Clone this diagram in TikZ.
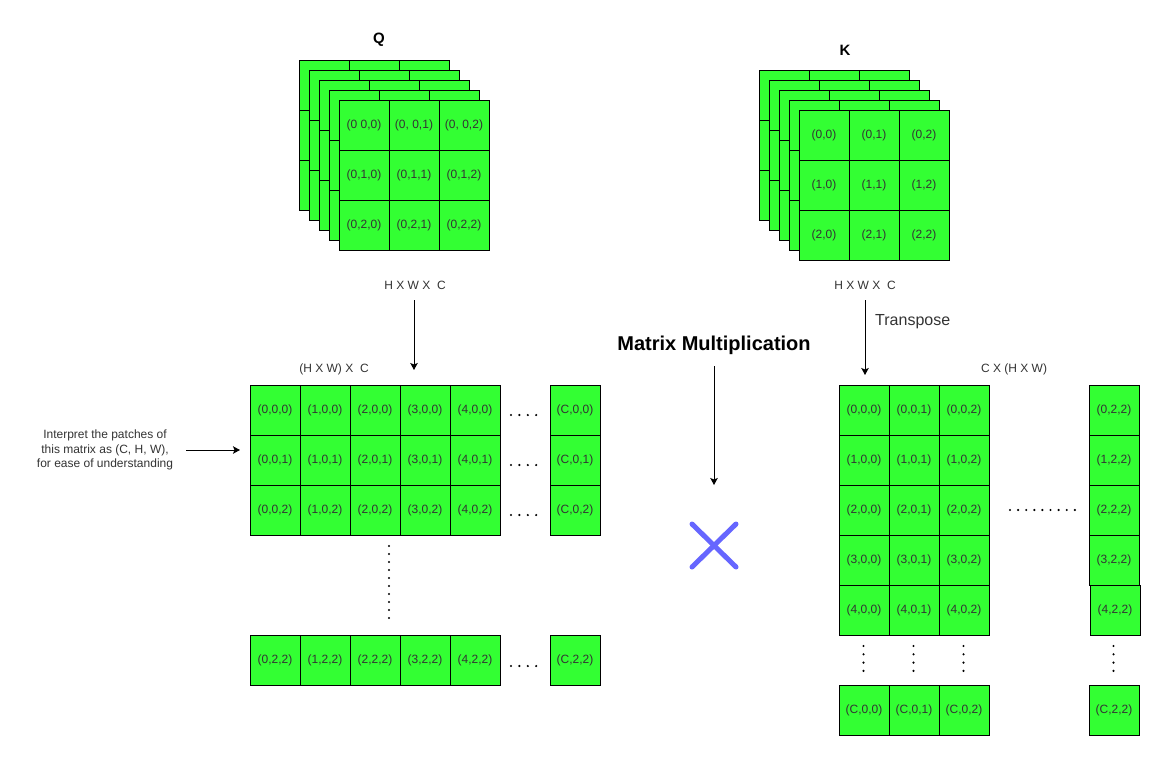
\documentclass[tikz,border=0pt]{standalone}
\usepackage{fontspec}
\setmainfont{Liberation Sans}
\usetikzlibrary{arrows.meta}
\definecolor{cellgreen}{HTML}{33FF33}
\definecolor{txt}{HTML}{333333}
\definecolor{xblue}{HTML}{6666FF}
\tikzset{
  cell/.style={draw=black, fill=cellgreen, line width=1pt, minimum width=50pt, minimum height=50pt,
    inner sep=0pt, outer sep=0pt, anchor=north west, text=txt, font=\fontsize{12}{14}\selectfont},
  lbl/.style={inner sep=0pt, text=txt, font=\fontsize{12}{14}\selectfont},
  title/.style={inner sep=0pt, text=black, font=\bfseries\fontsize{15}{18}\selectfont},
  arr/.style={line width=1pt, -{Stealth[length=7pt, width=7.5pt, inset=1.5pt]}},
  dotmark/.style={fill=black}
}
\begin{document}
\begin{tikzpicture}[x=1pt,y=-1pt]
\useasboundingbox (0,0) rectangle (1166,761);
% ---------- Q stack ----------
\node[title] (qtitle) at (379,40) {Q};
\foreach \k in {0,...,3}{
  \foreach \i in {0,1,2}{
    \foreach \j in {0,1,2}{
      \node[cell] (q\k-\i-\j) at ({299+10*\k+50*\j},{60+10*\k+50*\i}) {};
    }}}
\node[cell] (qa) at (339,100) {(0 0,0)};
\node[cell] (qb) at (389,100) {(0, 0,1)};
\node[cell] (qc) at (439,100) {(0, 0,2)};
\node[cell] (qd) at (339,150) {(0,1,0)};
\node[cell] (qe) at (389,150) {(0,1,1)};
\node[cell] (qf) at (439,150) {(0,1,2)};
\node[cell] (qg) at (339,200) {(0,2,0)};
\node[cell] (qh) at (389,200) {(0,2,1)};
\node[cell] (qi) at (439,200) {(0,2,2)};
% ---------- K stack ----------
\node[title] (ktitle) at (845,50) {K};
\foreach \k in {0,...,3}{
  \foreach \i in {0,1,2}{
    \foreach \j in {0,1,2}{
      \node[cell] (k\k-\i-\j) at ({759+10*\k+50*\j},{70+10*\k+50*\i}) {};
    }}}
\foreach \i in {0,1,2}{
  \foreach \j in {0,1,2}{
    \node[cell] (kf\i-\j) at ({799+50*\j},{110+50*\i}) {(\i,\j)};
  }}
% ---------- labels ----------
\node[lbl] (hwcL) at (415,285) {H X W X~ C};
\node[lbl] (hwcR) at (865,285) {H X W X~ C};
\node[lbl] (hwL) at (334,369) {(H X W) X~ C};
\node[lbl] (hwR) at (1014,369) {C X (H X W)};
\node[inner sep=0pt, text=txt, font=\fontsize{16}{18}\selectfont, anchor=west] (transp) at (875,322) {Transpose};
\node[inner sep=0pt, text=black, font=\bfseries\fontsize{20}{24}\selectfont] (mm) at (714,345) {Matrix Multiplication};
\node[lbl, align=center, font=\fontsize{12}{14.5}\selectfont] (interp) at (105,450)
  {Interpret the patches of\\this matrix as (C, H, W),\\for ease of understanding};
% ---------- left matrix ----------
\foreach \r in {0,1,2}{
  \foreach \c in {0,...,4}{
    \node[cell] (m\c-\r) at ({250+50*\c},{385+50*\r}) {(\c,0,\r)};
  }
  \node[cell] (mC-\r) at (550,{385+50*\r}) {(C,0,\r)};
}
\foreach \c in {0,...,4}{
  \node[cell] (b\c) at ({250+50*\c},635) {(\c,2,2)};
}
\node[cell] (bC) at (550,635) {(C,2,2)};
% ---------- right matrix ----------
\foreach \i in {0,...,4}{
  \foreach \j in {0,1,2}{
    \node[cell] (t\i-\j) at ({839+50*\j},{385+50*\i}) {(\i,0,\j)};
  }}
\foreach \i in {0,...,3}{
  \node[cell] (tL\i) at (1089,{385+50*\i}) {(\i,2,2)};
}
\node[cell] (tL4) at (1090,585) {(4,2,2)};
\foreach \j in {0,1,2}{
  \node[cell] (tb\j) at ({839+50*\j},685) {(C,0,\j)};
}
\node[cell] (tbL) at (1089,685) {(C,2,2)};
% ---------- dots ----------
\foreach \yy in {415,465,515,666}{
  \foreach \n in {0,...,3}{
    \fill[dotmark] ({511+8.4*\n},\yy) circle (1.2pt);
  }}
\foreach \n in {0,...,9}{
  \fill[dotmark] (389,{546+8*\n}) circle (1.2pt);
}
\foreach \xx in {863.5,913.5,963.5,1113.5}{
  \foreach \n in {0,...,3}{
    \fill[dotmark] (\xx,{646+8.3*\n}) circle (1.2pt);
  }}
\foreach \n in {0,...,8}{
  \fill[dotmark] ({1010+8.1*\n},510) circle (1.2pt);
}
% ---------- arrows ----------
\coordinate (a1s) at (414,300);
\coordinate (a1e) at (414,370);
\draw[arr] (a1s) -- (a1e);
\coordinate (a2s) at (865,300);
\coordinate (a2e) at (865,375);
\draw[arr] (a2s) -- (a2e);
\coordinate (a3s) at (714,366);
\coordinate (a3e) at (714,485);
\draw[arr] (a3s) -- (a3e);
\coordinate (a4s) at (186,450);
\coordinate (a4e) at (240,450);
\draw[arr] (a4s) -- (a4e);
% ---------- multiplication sign ----------
\draw[xblue, line width=5pt, line cap=round] (692,524) -- (736,567);
\draw[xblue, line width=5pt, line cap=round] (736,524) -- (692,567);
\end{tikzpicture}
\end{document}
